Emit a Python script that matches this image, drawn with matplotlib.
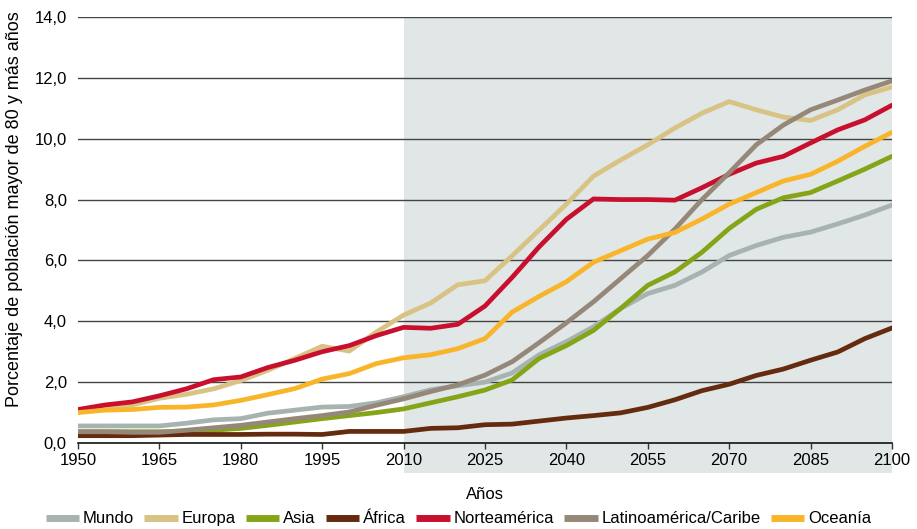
import matplotlib

matplotlib.use("Agg")
import matplotlib.pyplot as plt
from matplotlib.lines import Line2D
from matplotlib.ticker import FuncFormatter

plt.rcParams["font.family"] = ["Liberation Sans", "DejaVu Sans"]

# ------------------------------------------------------------
# Data (percentage of population aged 80+)
# ------------------------------------------------------------
years = list(range(1950, 2101, 5))

mundo = [0.56, 0.56, 0.56, 0.56, 0.65, 0.76, 0.80, 0.98, 1.08, 1.18, 1.20,
         1.32, 1.52, 1.75, 1.88, 2.00, 2.30, 2.90, 3.33, 3.82, 4.42, 4.91,
         5.18, 5.62, 6.16, 6.49, 6.76, 6.93, 7.20, 7.49, 7.82]
europa = [1.05, 1.15, 1.25, 1.47, 1.60, 1.78, 2.05, 2.39, 2.78, 3.18, 3.02,
          3.65, 4.20, 4.60, 5.20, 5.33, 6.15, 7.00, 7.85, 8.77, 9.30, 9.80,
          10.35, 10.84, 11.22, 10.95, 10.71, 10.60, 10.95, 11.44, 11.70]
asia = [0.37, 0.37, 0.37, 0.37, 0.38, 0.42, 0.48, 0.58, 0.69, 0.80, 0.90,
        1.00, 1.12, 1.32, 1.52, 1.74, 2.07, 2.78, 3.20, 3.70, 4.42, 5.18,
        5.62, 6.27, 7.05, 7.68, 8.06, 8.23, 8.61, 9.00, 9.42]
africa = [0.24, 0.24, 0.24, 0.26, 0.28, 0.28, 0.28, 0.29, 0.29, 0.28, 0.38,
          0.38, 0.38, 0.48, 0.50, 0.60, 0.62, 0.72, 0.82, 0.90, 0.99, 1.17,
          1.42, 1.72, 1.93, 2.22, 2.43, 2.72, 2.99, 3.43, 3.78]
norteamerica = [1.10, 1.25, 1.35, 1.55, 1.78, 2.08, 2.17, 2.48, 2.72, 3.00,
                3.20, 3.53, 3.80, 3.77, 3.90, 4.50, 5.44, 6.45, 7.35, 8.02,
                8.00, 8.00, 7.98, 8.39, 8.83, 9.20, 9.42, 9.86, 10.29, 10.62,
                11.10]
latam = [0.37, 0.37, 0.35, 0.35, 0.42, 0.50, 0.58, 0.69, 0.80, 0.90, 1.02,
         1.24, 1.45, 1.69, 1.91, 2.23, 2.67, 3.30, 3.95, 4.64, 5.40, 6.16,
         7.03, 8.00, 8.88, 9.80, 10.45, 10.95, 11.27, 11.60, 11.90]
oceania = [1.00, 1.08, 1.10, 1.17, 1.18, 1.25, 1.40, 1.59, 1.79, 2.10, 2.28,
           2.61, 2.80, 2.90, 3.10, 3.43, 4.30, 4.82, 5.30, 5.94, 6.32, 6.70,
           6.92, 7.36, 7.85, 8.23, 8.61, 8.83, 9.26, 9.75, 10.21]

labels = ["Mundo", "Europa", "Asia", "África", "Norteamérica",
          "Latinoamérica/Caribe", "Oceanía"]
series = [mundo, europa, asia, africa, norteamerica, latam, oceania]
colors = ["#a6b3b1", "#d8c384", "#86a418", "#652b0f", "#c8102e",
          "#958878", "#f9b52a"]

x_ticks = list(range(1950, 2101, 15))
y_ticks = [0, 2, 4, 6, 8, 10, 12, 14]

# ------------------------------------------------------------
# Figure
# ------------------------------------------------------------
fig = plt.figure(figsize=(9.17, 5.29), dpi=100)
ax = fig.add_axes([0.085, 0.1626, 0.8877, 0.8053])

# projection period shading (reaches below the axis, behind tick labels)
ax.axvspan(2010, 2100, ymin=-0.0704, ymax=1, color="#e1e6e6", lw=0,
           zorder=0, clip_on=False)

for y in y_ticks[1:]:
    ax.axhline(y, color="#444444", lw=1.0, zorder=1)

for values, color, label in zip(series, colors, labels):
    ax.plot(years, values, color=color, lw=3.4, label=label, zorder=3,
            solid_capstyle="round", solid_joinstyle="round")

ax.set_xlim(1950, 2100)
ax.set_ylim(0, 14)
ax.set_xticks(x_ticks)
ax.set_yticks(y_ticks)
ax.yaxis.set_major_formatter(FuncFormatter(lambda v, _: f"{v:.1f}".replace(".", ",")))

for side in ["top", "right", "left"]:
    ax.spines[side].set_visible(False)
ax.spines["bottom"].set_color("#111111")
ax.spines["bottom"].set_linewidth(1.2)
ax.spines["bottom"].set_zorder(4)

ax.tick_params(axis="x", direction="out", length=4, width=1, color="#333333",
               labelsize=12, pad=3)
ax.tick_params(axis="y", length=0, labelsize=12, pad=8)

ax.set_xlabel("Años", fontsize=12, labelpad=14)
ax.set_ylabel("Porcentaje de población mayor de 80 y más años", fontsize=13)
ax.yaxis.set_label_coords(-0.067, 0.55)

handles = [Line2D([0], [0], color=c, lw=5, solid_capstyle="butt") for c in colors]
fig.legend(handles, labels, loc="center", bbox_to_anchor=(0.5, 0.019),
           ncol=7, frameon=False, fontsize=12, handlelength=2.0,
           handletextpad=0.25, columnspacing=0.6, borderpad=0)

fig.savefig("out.png", dpi=100)
